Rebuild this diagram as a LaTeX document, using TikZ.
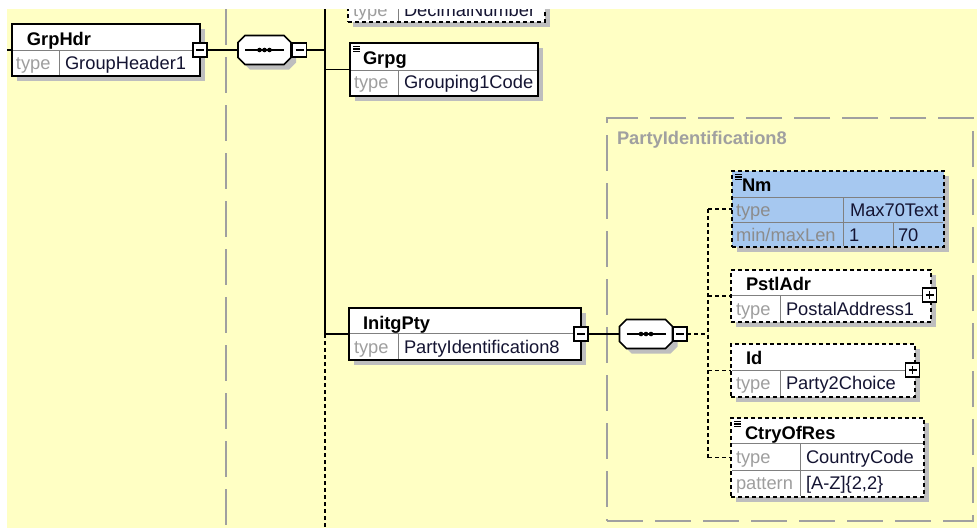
\documentclass[tikz,border=0pt]{standalone}
\usepackage{fontspec}
\setmainfont{Liberation Sans}
\usetikzlibrary{shadows}

\definecolor{paper}{HTML}{FFFFC4}
\definecolor{selblue}{HTML}{A6C8F0}
\definecolor{shade}{HTML}{BEBEBE}
\definecolor{frame}{HTML}{A0A0A0}
\definecolor{valtext}{HTML}{141432}

\begin{document}
\begin{tikzpicture}[x=1pt, y=-1pt, font=\fontsize{18.3}{21}\selectfont,
    every node/.style={inner sep=0pt, outer sep=0pt},
    shadowed/.style={drop shadow={shadow xshift=5pt, shadow yshift=-5pt, fill=shade, opacity=1}},
    box/.style={rectangle, draw, fill=white, line width=1.6pt, anchor=north west, shadowed},
    optbox/.style={box, dash pattern=on 4pt off 3pt},
    cell/.style={line width=0.9pt, black!50},
    link/.style={line width=1.5pt},
    optlink/.style={link, dash pattern=on 4pt off 3pt},
    elname/.style={anchor=base west, font=\fontsize{18.3}{21}\selectfont\bfseries},
    lbl/.style={anchor=base west, text=black!38},
    val/.style={anchor=base west, text=valtext},
    seq/.style={rectangle, minimum width=53pt, minimum height=29pt},
    tog/.style={rectangle, draw, fill=white, line width=1.3pt, minimum size=14pt},
    minus/.style={tog, path picture={
        \draw[black, line width=1.3pt] ([xshift=-4pt]path picture bounding box.center)
          -- ([xshift=4pt]path picture bounding box.center);}},
    plus/.style={tog, path picture={
        \draw[black, line width=1.3pt] ([xshift=-4pt]path picture bounding box.center)
          -- ([xshift=4pt]path picture bounding box.center)
          ([yshift=-4pt]path picture bounding box.center)
          -- ([yshift=4pt]path picture bounding box.center);}},
    scope frame/.style={draw=frame, line width=2.4pt, dash pattern=on 36pt off 12pt}
  ]

  % background
  \useasboundingbox (0,0) rectangle (977,528);
  \fill[paper] (7,9) rectangle (977,528);

  % type boundaries
  \coordinate (gtop) at (226,9);
  \coordinate (gbot) at (226,528);
  \draw[scope frame] (gtop) -- (gbot);
  \node[scope frame, anchor=north west, minimum width=366pt, minimum height=403pt] (pidframe) at (607,118) {};
  \node[elname, text=frame] (pidlabel) at (617,144) {PartyIdentification8};

  % connectors
  \coordinate (lin) at (7,50);
  \coordinate (bustop) at (325,9);
  \coordinate (busA) at (325,50);
  \coordinate (busB) at (325,69.5);
  \coordinate (busC) at (325,334);
  \coordinate (busend) at (325,528);
  \coordinate (fork) at (708,334);
  \coordinate (forkA) at (708,209);
  \coordinate (forkP) at (708,296);
  \coordinate (forkI) at (708,370.5);
  \coordinate (forkB) at (708,457.5);

  % GrpHdr
  \node[box, minimum width=188pt, minimum height=52pt] (grphdr) at (12,24) {};
  \draw[cell] (13,50) -- (199,50) (59,50) -- (59,75);
  \node[elname] (grphdr-n) at (27,45) {GrpHdr};
  \node[lbl] (grphdr-t) at (16,69) {type};
  \node[val] (grphdr-v) at (65,69) {GroupHeader1};

  \node[seq] (seq1) at (264.5,50) {};
  \node[seq] (seq2) at (646,334) {};
  \draw[link] (lin) -- (grphdr.west);
  \draw[link] (grphdr.east) -- (seq1.west);
  \node[minus] (grphdr-x) at (200,50) {};

  % sequence compositors
  \foreach \s in {seq1,seq2} {
    \draw[line width=1.6pt, fill=white, shadowed]
      ([xshift=7pt]\s.north west) -- ([xshift=-7pt]\s.north east)
      -- ([yshift=-7pt]\s.north east) -- ([yshift=7pt]\s.south east)
      -- ([xshift=-7pt]\s.south east) -- ([xshift=7pt]\s.south west)
      -- ([yshift=7pt]\s.south west) -- ([yshift=-7pt]\s.north west) -- cycle;
    \draw[line width=1.4pt] ([xshift=7pt]\s.west) -- ([xshift=-7pt]\s.east);
    \foreach \dx in {-5,0,5}
      \fill ([xshift=\dx pt]\s.center) circle[radius=2.3pt];
  }

  \node[minus] (seq1-x) at (299.5,50) {};
  \draw[link] (seq1-x) -- (busA);
  \draw[link] (bustop) -- (busC);
  \draw[optlink] (busC) -- (busend);

  % DecimalNumber (cut off at the top)
  \node[optbox, minimum width=197pt, minimum height=52pt] (dec) at (348,-30) {};
  \draw[cell] (398,-4) -- (398,21);
  \node[lbl] (dec-t) at (353,16) {type};
  \node[val] (dec-v) at (404,16) {DecimalNumber};

  % Grpg
  \draw[link] (busB) -- (350,69.5);
  \node[box, minimum width=188pt, minimum height=53pt] (grpg) at (350,43) {};
  \draw[cell] (351,70) -- (537,70) (398,70) -- (398,95);
  \node[elname] (grpg-n) at (363,64) {Grpg};
  \node[lbl] (grpg-t) at (354,88) {type};
  \node[val] (grpg-v) at (404,88) {Grouping1Code};

  % InitgPty
  \node[box, minimum width=232pt, minimum height=52pt] (initg) at (349,308) {};
  \draw[link] (busC) -- (initg.west);
  \draw[link] (initg.east) -- (seq2.west);
  \draw[cell] (350,333) -- (580,333) (398,333) -- (398,359);
  \node[elname] (initg-n) at (363,329) {InitgPty};
  \node[lbl] (initg-t) at (354,353) {type};
  \node[val] (initg-v) at (404,353) {PartyIdentification8};
  \node[minus] (initg-x) at (581,334) {};

  \node[minus] (seq2-x) at (680,334) {};
  \draw[optlink] (seq2-x) -- (fork);
  \draw[optlink] (forkA) -- (forkB);

  % Nm
  \draw[optlink] (forkA) -- (732,209);
  \node[optbox, fill=selblue, minimum width=212pt, minimum height=76pt] (nm) at (732,171) {};
  \draw[cell] (733,197) -- (943,197) (733,222) -- (943,222)
    (843,197) -- (843,246) (893,222) -- (893,246);
  \node[elname] (nm-n) at (742,191) {Nm};
  \node[lbl, text=black!45] (nm-t) at (736,216) {type};
  \node[val] (nm-v) at (850,216) {Max70Text};
  \node[lbl, text=black!45] (nm-l) at (736,241) {min/maxLen};
  \node[val] (nm-min) at (849,241) {1};
  \node[val] (nm-max) at (898,241) {70};

  % PstlAdr
  \draw[optlink] (forkP) -- (731,296);
  \node[optbox, minimum width=200pt, minimum height=52pt] (pstl) at (731,270) {};
  \draw[cell] (732,295) -- (930,295) (780,295) -- (780,321);
  \node[elname] (pstl-n) at (746,290) {PstlAdr};
  \node[lbl] (pstl-t) at (736,315) {type};
  \node[val] (pstl-v) at (786,315) {PostalAddress1};
  \node[plus] (pstl-x) at (929.5,295) {};

  % Id
  \draw[optlink] (forkI) -- (731,370.5);
  \node[optbox, minimum width=184pt, minimum height=53pt] (id) at (731,344) {};
  \draw[cell] (732,370) -- (914,370) (780,370) -- (780,396);
  \node[elname] (id-n) at (746,364) {Id};
  \node[lbl] (id-t) at (736,389) {type};
  \node[val] (id-v) at (786,389) {Party2Choice};
  \node[plus] (id-x) at (912.5,370) {};

  % CtryOfRes
  \draw[optlink] (forkB) -- (731,457.5);
  \node[optbox, minimum width=193pt, minimum height=79pt] (ctry) at (731,418) {};
  \draw[cell] (732,443) -- (923,443) (732,470) -- (923,470) (800,443) -- (800,496);
  \node[elname] (ctry-n) at (745,439) {CtryOfRes};
  \node[lbl] (ctry-t) at (736,463) {type};
  \node[val] (ctry-v) at (806,463) {CountryCode};
  \node[lbl] (ctry-p) at (736,489) {pattern};
  \node[val] (ctry-pv) at (806,489) {[A-Z]\{2,2\}};

  % documentation marks
  \foreach \b in {grpg,nm,ctry}
    \foreach \d in {3.5,6,8.5}
      \draw[line width=1.1pt] ([shift={(3pt,-\d pt)}]\b.north west) -- ++(7,0);

  \fill[white] (0,0) rectangle (977,9);
\end{tikzpicture}
\end{document}
